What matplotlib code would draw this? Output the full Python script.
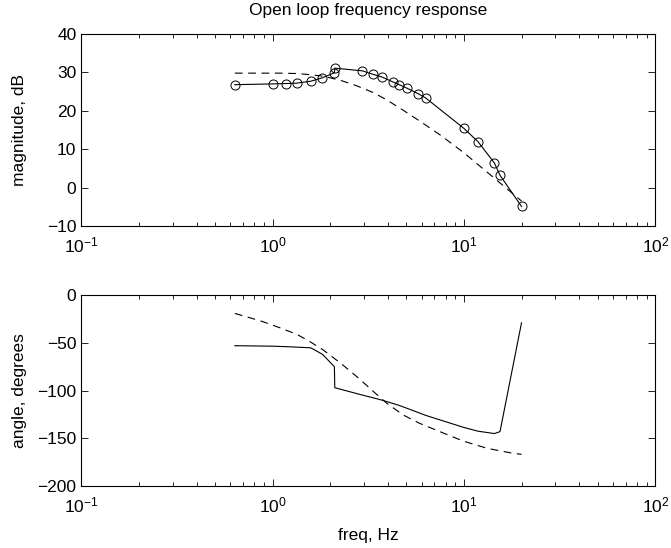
import matplotlib
matplotlib.use('Agg')
import matplotlib.pyplot as plt
from matplotlib.ticker import LogLocator, NullFormatter


plt.rcParams['font.family'] = ['Liberation Sans', 'DejaVu Sans']
plt.rcParams['font.size'] = 12.5

# measured open-loop response (circles on the magnitude plot)
meas_freq = [0.634, 1.0, 1.175, 1.336, 1.58, 1.82, 2.10, 2.11, 2.94, 3.34, 3.72,
             4.25, 4.58, 5.02, 5.73, 6.31, 9.93, 11.8, 14.4, 15.4, 19.95]
meas_mag = [26.8, 27.0, 27.1, 27.2, 27.7, 28.6, 29.9, 31.1, 30.4, 29.5, 28.8,
            27.5, 26.8, 25.9, 24.5, 23.3, 15.5, 12.0, 6.4, 3.2, -4.9]
meas_phase = [-53, -53.5, -54, -54.5, -55.2, -62, -75, -97, -104.7, -107.5, -110,
              -113.5, -115.5, -118.5, -122.8, -126, -138.5, -142.5, -145, -143, -29]

# model response (dashed)
model_freq = [0.634, 0.76, 0.89, 1.09, 1.34, 1.57, 1.84, 2.27, 2.75, 3.37, 3.95,
              4.82, 5.87, 7.5, 9.9, 13.2, 17.4, 19.95]
model_mag = [29.8, 29.8, 29.8, 29.8, 29.7, 29.4, 29.0, 27.9, 26.5, 24.7, 22.8,
             20.1, 17.3, 13.7, 9.2, 4.0, -1.0, -3.5]
model_phase = [-19.2, -23.7, -27.9, -34.2, -41.2, -48.9, -57.6, -71.5, -85.4, -101.2, -113.4,
               -125.7, -134.4, -143.1, -152.9, -160.5, -165.1, -166.8]


def style_axes(ax, ylim, yticks):
    ax.set_xscale('log')
    ax.set_xlim(0.1, 100)
    ax.set_ylim(*ylim)
    ax.set_yticks(yticks)
    ax.xaxis.set_minor_locator(LogLocator(base=10, subs=range(2, 10), numticks=20))
    ax.xaxis.set_minor_formatter(NullFormatter())
    ax.tick_params(which='both', direction='in', top=True, right=True, width=0.6)
    ax.tick_params(which='major', length=5)
    ax.tick_params(which='minor', length=3)
    ax.tick_params(axis='x', pad=7)
    for s in ax.spines.values():
        s.set_linewidth(0.8)


fig = plt.figure(figsize=(6.71, 5.48), dpi=100)
ax1 = fig.add_axes([0.1212, 0.5876, 0.8557, 0.3504])
ax2 = fig.add_axes([0.1212, 0.1130, 0.8557, 0.3485])

ax1.plot(meas_freq, meas_mag, color='k', lw=0.8, marker='o', ms=6.5,
         mfc='none', mec='k', mew=0.7)
ax1.plot(model_freq, model_mag, color='k', lw=0.8, linestyle=(0, (7, 5)))
style_axes(ax1, (-10, 40), [-10, 0, 10, 20, 30, 40])
ax1.set_ylabel('magnitude, dB')
ax1.yaxis.set_label_coords(-0.094, 0.5)
ax1.set_title('Open loop frequency response', fontsize=12.5, pad=14)

ax2.plot(meas_freq, meas_phase, color='k', lw=0.8)
ax2.plot(model_freq, model_phase, color='k', lw=0.8, linestyle=(0, (7, 5)))
style_axes(ax2, (-200, 0), [-200, -150, -100, -50, 0])
ax2.set_ylabel('angle, degrees')
ax2.yaxis.set_label_coords(-0.094, 0.5)
ax2.set_xlabel('freq, Hz', labelpad=9)

fig.savefig('out.png', dpi=100)
